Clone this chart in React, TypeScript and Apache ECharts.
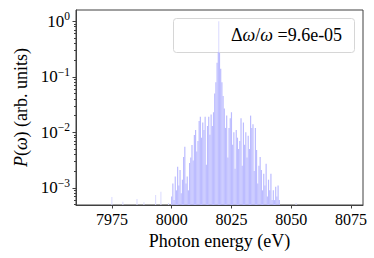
import React, { useEffect, useRef } from "react";
import * as echarts from "echarts";

// Histogram bins (bin centres start at binStart, spaced binWidth eV)
const binStart = 8000;
const binWidth = 0.5;
const binValues = [
  0.0007, 0.0012, 0.0006, 0.0016, 0.0009, 0.0024, 0.0011, 0.0021, 0.0008, 0.0014,
  0.0036, 0.0055, 0.0012, 0.0016, 0.0009, 0.0028, 0.0035, 0.0059, 0.0031, 0.0089,
  0.011, 0.0045, 0.007, 0.016, 0.019, 0.008, 0.015, 0.011, 0.019, 0.0026,
  0.013, 0.019, 0.009, 0.021, 0.013, 0.023, 0.05, 0.08, 0.18, 0.28,
  0.27, 0.14, 0.08, 0.045, 0.027, 0.012, 0.02, 0.0035, 0.012, 0.018,
  0.023, 0.006, 0.01, 0.0022, 0.011, 0.008, 0.005, 0.007, 0.018, 0.0025,
  0.015, 0.006, 0.01, 0.0035, 0.0087, 0.005, 0.02, 0.012, 0.014, 0.002,
  0.012, 0.0048, 0.0012, 0.0025, 0.0036, 0.0021, 0.0009, 0.0018, 0.0011, 0.0027,
  0.0007, 0.0014, 0.0009, 0.0018, 0.0006, 0.0009, 0.0006, 0.00105, 0.0007, 0.0011,
  0.0006,
];

// Isolated thin lines (outliers and the narrow central spike)
const spikeEnergies = [7975, 7979.6, 7985.5, 7988.4, 7993.3, 7995.5, 7998.7, 8019.7, 8052];
const spikeValues = [6.8e-4, 5.6e-4, 6.3e-4, 5.5e-4, 7.4e-4, 8.5e-4, 5.3e-4, 1.0, 5.3e-4];

const xTicks = [7975, 8000, 8025, 8050, 8075];
const yMajorTicks = [1e-3, 1e-2, 1e-1, 1];
const yMinorTicks = [
  5e-4, 6e-4, 7e-4, 8e-4, 9e-4,
  2e-3, 3e-3, 4e-3, 5e-3, 6e-3, 7e-3, 8e-3, 9e-3,
  2e-2, 3e-2, 4e-2, 5e-2, 6e-2, 7e-2, 8e-2, 9e-2,
  2e-1, 3e-1, 4e-1, 5e-1, 6e-1, 7e-1, 8e-1, 9e-1,
];

const xMin = 7960;
const xMax = 8080;
const yMin = 4.9e-4;
const yMax = 1.6;

const FONT = "'Liberation Serif', 'DejaVu Serif', serif";
const AXIS_COLOR = "#404040";
const BAR_COLOR = "#bcbcff";
const SPIKE_COLOR = "#dadaff";

export default function App() {
  const ref = useRef<HTMLDivElement>(null);

  useEffect(() => {
    if (!ref.current) return;
    const chart = echarts.init(ref.current, null, { renderer: "svg" });

    const binData = binValues.map((v, i) => [binStart + i * binWidth, v]);
    const spikeData = spikeEnergies.map((e, i) => [e, spikeValues[i]]);

    const supLabel = (v: number) => {
      const e = Math.round(Math.log10(v));
      return `{b|10}{s|${e < 0 ? "\u2212" + -e : e}}`;
    };

    chart.setOption({
      animation: false,
      textStyle: { fontFamily: FONT },
      grid: {
        left: 76,
        right: 11,
        top: 10,
        bottom: 53,
        show: true,
        borderColor: AXIS_COLOR,
        borderWidth: 1,
        backgroundColor: "transparent",
      },
      xAxis: {
        type: "value",
        min: xMin,
        max: xMax,
        name: "Photon energy (eV)",
        nameLocation: "middle",
        nameGap: 17,
        nameTextStyle: { fontFamily: FONT, fontSize: 18, color: "#000" },
        axisLine: { show: true, lineStyle: { color: AXIS_COLOR, width: 1 } },
        axisTick: { show: true, length: 3.5, customValues: xTicks, lineStyle: { color: AXIS_COLOR } },
        axisLabel: {
          customValues: xTicks,
          margin: 6,
          fontFamily: FONT,
          fontSize: 16,
          color: "#000",
          formatter: (v: number) => String(v),
        },
        splitLine: { show: false },
      },
      yAxis: [
        {
          type: "log",
          min: yMin,
          max: yMax,
          name: "{i|P}({i|\u03c9}) (arb. units)",
          nameLocation: "middle",
          nameGap: 43,
          nameRotate: 90,
          nameTextStyle: {
            fontFamily: FONT,
            fontSize: 18,
            color: "#000",
            rich: { i: { fontFamily: FONT, fontSize: 18, fontStyle: "italic", color: "#000" } },
          },
          axisLine: { show: true, lineStyle: { color: AXIS_COLOR, width: 1 } },
          axisTick: { show: true, length: 3.5, customValues: yMajorTicks, lineStyle: { color: AXIS_COLOR } },
          axisLabel: {
            customValues: yMajorTicks,
            margin: 6,
            color: "#000",
            fontFamily: FONT,
            formatter: supLabel,
            rich: {
              b: { fontFamily: FONT, fontSize: 17, color: "#000", lineHeight: 22 },
              s: { fontFamily: FONT, fontSize: 11.5, color: "#000", lineHeight: 10, verticalAlign: "top" },
            },
          },
          splitLine: { show: false },
        },
        {
          type: "log",
          min: yMin,
          max: yMax,
          position: "left",
          axisLine: { show: false },
          axisTick: { show: true, length: 2, customValues: yMinorTicks, lineStyle: { color: AXIS_COLOR } },
          axisLabel: { show: false },
          splitLine: { show: false },
        },
      ],
      series: [
        {
          type: "custom",
          xAxisIndex: 0,
          yAxisIndex: 0,
          encode: { x: 0, y: 1 },
          data: spikeData,
          clip: true,
          z: 1,
          renderItem: (_params: any, api: any) => {
            const x = api.value(0) as number;
            const y = api.value(1) as number;
            const p0 = api.coord([x, y]);
            const p1 = api.coord([x, yMin]);
            return {
              type: "rect",
              shape: { x: p0[0] - 0.5, y: p0[1], width: 1, height: p1[1] - p0[1] },
              style: { fill: SPIKE_COLOR },
            };
          },
        },
        {
          type: "custom",
          xAxisIndex: 0,
          yAxisIndex: 0,
          encode: { x: 0, y: 1 },
          data: binData,
          clip: true,
          z: 2,
          renderItem: (_params: any, api: any) => {
            const x = api.value(0) as number;
            const y = api.value(1) as number;
            const p0 = api.coord([x - binWidth / 2, y]);
            const p1 = api.coord([x + binWidth / 2, yMin]);
            return {
              type: "rect",
              shape: { x: p0[0], y: p0[1], width: p1[0] - p0[0], height: p1[1] - p0[1] },
              style: { fill: BAR_COLOR },
            };
          },
        },
      ],
      graphic: [
        {
          type: "group",
          z: 100,
          children: [
            {
              type: "rect",
              shape: { x: 173.5, y: 18.5, width: 181, height: 34, r: 3 },
              style: { fill: "rgba(255,255,255,0.8)", stroke: "#d6d6d6", lineWidth: 1 },
            },
            {
              type: "text",
              x: 231,
              y: 35,
              style: {
                text: "\u0394{i|\u03c9}/{i|\u03c9} =9.6e-05",
                fontFamily: FONT,
                fontSize: 18,
                fill: "#000",
                align: "left",
                verticalAlign: "middle",
                rich: { i: { fontFamily: FONT, fontSize: 18, fontStyle: "italic", fill: "#000" } },
              },
            },
          ],
        },
      ],
    });

    return () => chart.dispose();
  }, []);

  return (
    <div
      ref={ref}
      style={{ position: "absolute", left: 0, top: 0, width: 374, height: 258, background: "#fff" }}
    />
  );
}
